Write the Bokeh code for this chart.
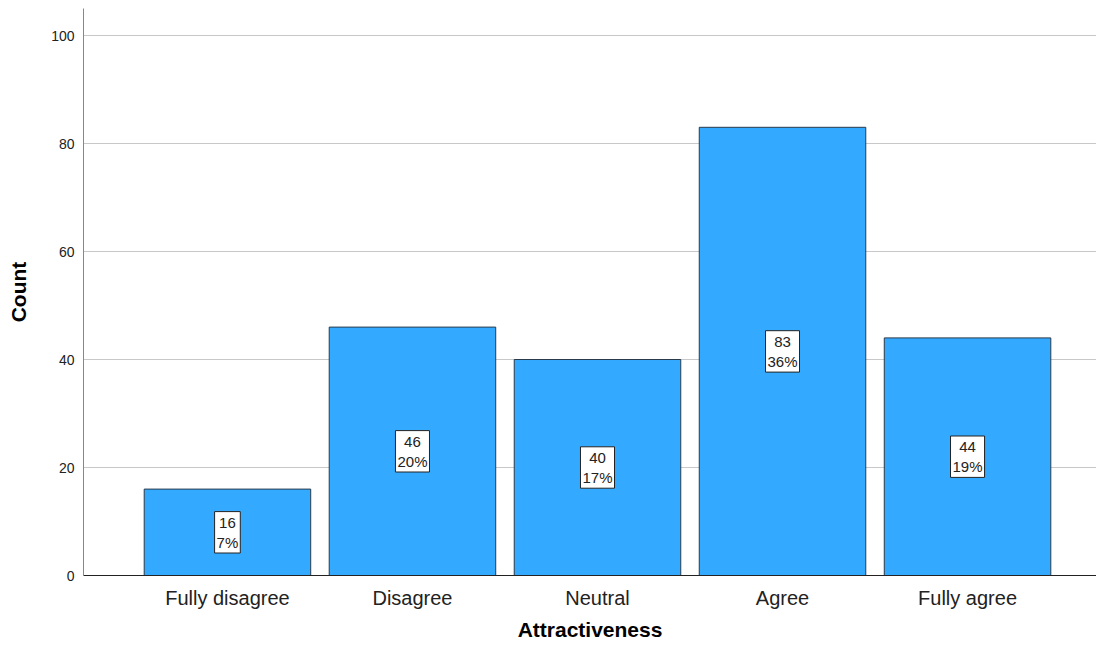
from bokeh.plotting import figure
from bokeh.models import ColumnDataSource, FixedTicker, Range1d
from bokeh.core.properties import value
from bokeh.embed import file_html
from bokeh.resources import INLINE

categories = ["Fully disagree", "Disagree", "Neutral", "Agree", "Fully agree"]
counts = [16, 46, 40, 83, 44]
percents = ["7%", "20%", "17%", "36%", "19%"]
y_ticks = [0, 20, 40, 60, 80, 100]

xs = list(range(len(categories)))
src = ColumnDataSource(dict(
    x=xs,
    top=counts,
    mid=[c / 2 for c in counts],
    label=[f"{c}\n{p}" for c, p in zip(counts, percents)],
))

p = figure(width=1096, height=643, output_backend="svg", toolbar_location=None,
           x_range=Range1d(-0.778, 4.697), y_range=Range1d(0, 105),
           min_border_left=83, min_border_right=0, min_border_top=8, min_border_bottom=68)
p.outline_line_color = None
p.background_fill_color = "white"

p.vbar(x="x", top="top", width=0.9, source=src, fill_color="#33aaff",
       line_color="#2a3a4a", line_width=1)

p.text(x="x", y="mid", text="label", source=src, text_align="center",
       text_baseline="middle", text_font=value("Liberation Sans"),
       text_font_size="15px", text_color="#222222", text_line_height=1.2,
       background_fill_color="white", border_line_color="#222222",
       border_line_width=1, padding=2)

p.xgrid.grid_line_color = None
p.ygrid.grid_line_color = "#c8c8c8"
p.ygrid.grid_line_width = 1

p.yaxis.ticker = FixedTicker(ticks=y_ticks)
p.xaxis.ticker = FixedTicker(ticks=xs)
p.xaxis.major_label_overrides = {i: c for i, c in enumerate(categories)}

for ax in (p.xaxis, p.yaxis):
    ax.major_tick_line_color = None
    ax.minor_tick_line_color = None
    ax.axis_label_text_font = "Liberation Sans"
    ax.axis_label_text_font_style = "bold"
    ax.axis_label_text_font_size = "21px"
    ax.axis_label_text_color = "#000000"
    ax.major_label_text_font = "Liberation Sans"
    ax.major_label_text_color = "#222222"

p.xaxis.axis_label = "Attractiveness"
p.yaxis.axis_label = "Count"
p.xaxis.axis_line_color = "#222222"
p.yaxis.axis_line_color = "#888888"
p.xaxis.major_label_text_font_size = "20px"
p.yaxis.major_label_text_font_size = "14px"
p.xaxis.major_label_standoff = 5
p.yaxis.major_label_standoff = 3
p.xaxis.axis_label_standoff = 6
p.yaxis.axis_label_standoff = 18

open("out.html", "w").write(file_html(p, INLINE))
